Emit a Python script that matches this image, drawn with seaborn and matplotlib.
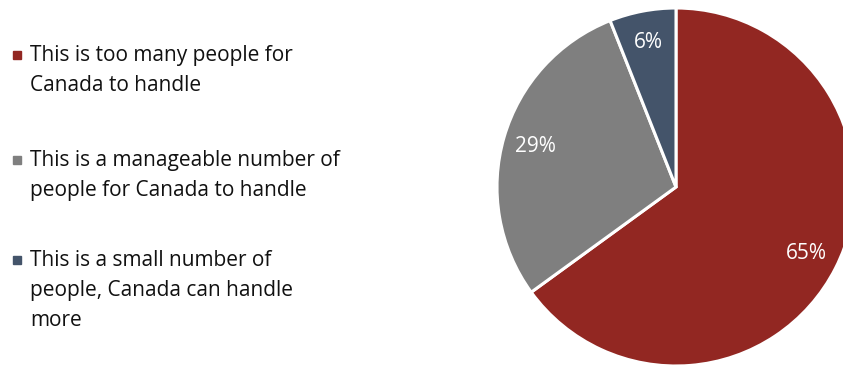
import matplotlib
matplotlib.use("Agg")
import matplotlib.pyplot as plt
from matplotlib.lines import Line2D
import seaborn as sns

categories = [
    "This is too many people for\nCanada to handle",
    "This is a manageable number of\npeople for Canada to handle",
    "This is a small number of\npeople, Canada can handle\nmore",
]
shares = [65, 29, 6]
colors = ["#922722", "#7f7f7f", "#44546a"]

sns.set_theme(style="white")
plt.rcParams["font.family"] = ["Open Sans", "DejaVu Sans"]

W, H = 843, 366
fig = plt.figure(figsize=(W / 100, H / 100), dpi=100)

# pie axes: centre (676, 187) px, radius 179 px
cx, cy, r = 676, 187, 179
ax = fig.add_axes([(cx - r) / W, (H - cy - r) / H, 2 * r / W, 2 * r / H])
wedges, texts, autotexts = ax.pie(
    shares,
    colors=colors,
    startangle=90,
    counterclock=False,
    radius=1.0,
    autopct=lambda p: f"{p:.0f}%",
    pctdistance=0.82,
    wedgeprops=dict(edgecolor="white", linewidth=2.2),
    textprops=dict(color="white", fontsize=15),
)
ax.set_xlim(-1, 1)
ax.set_ylim(-1, 1)
ax.set_aspect("equal")
ax.axis("off")

# legend block on the left: square marker beside the first line of each label
first_line_y = [55, 160, 260]   # pixel rows of each entry's first line
for label, color, ypx in zip(categories, colors, first_line_y):
    fig.add_artist(Line2D([17 / W], [1 - ypx / H], transform=fig.transFigure,
                          marker="s", markersize=6, linestyle="none",
                          markerfacecolor=color, markeredgecolor=color))
    fig.text(30 / W, 1 - (ypx - 10) / H, label, ha="left", va="top",
             fontsize=15, color="#111111", linespacing=1.56)

fig.savefig("out.png", dpi=100, facecolor="white")
